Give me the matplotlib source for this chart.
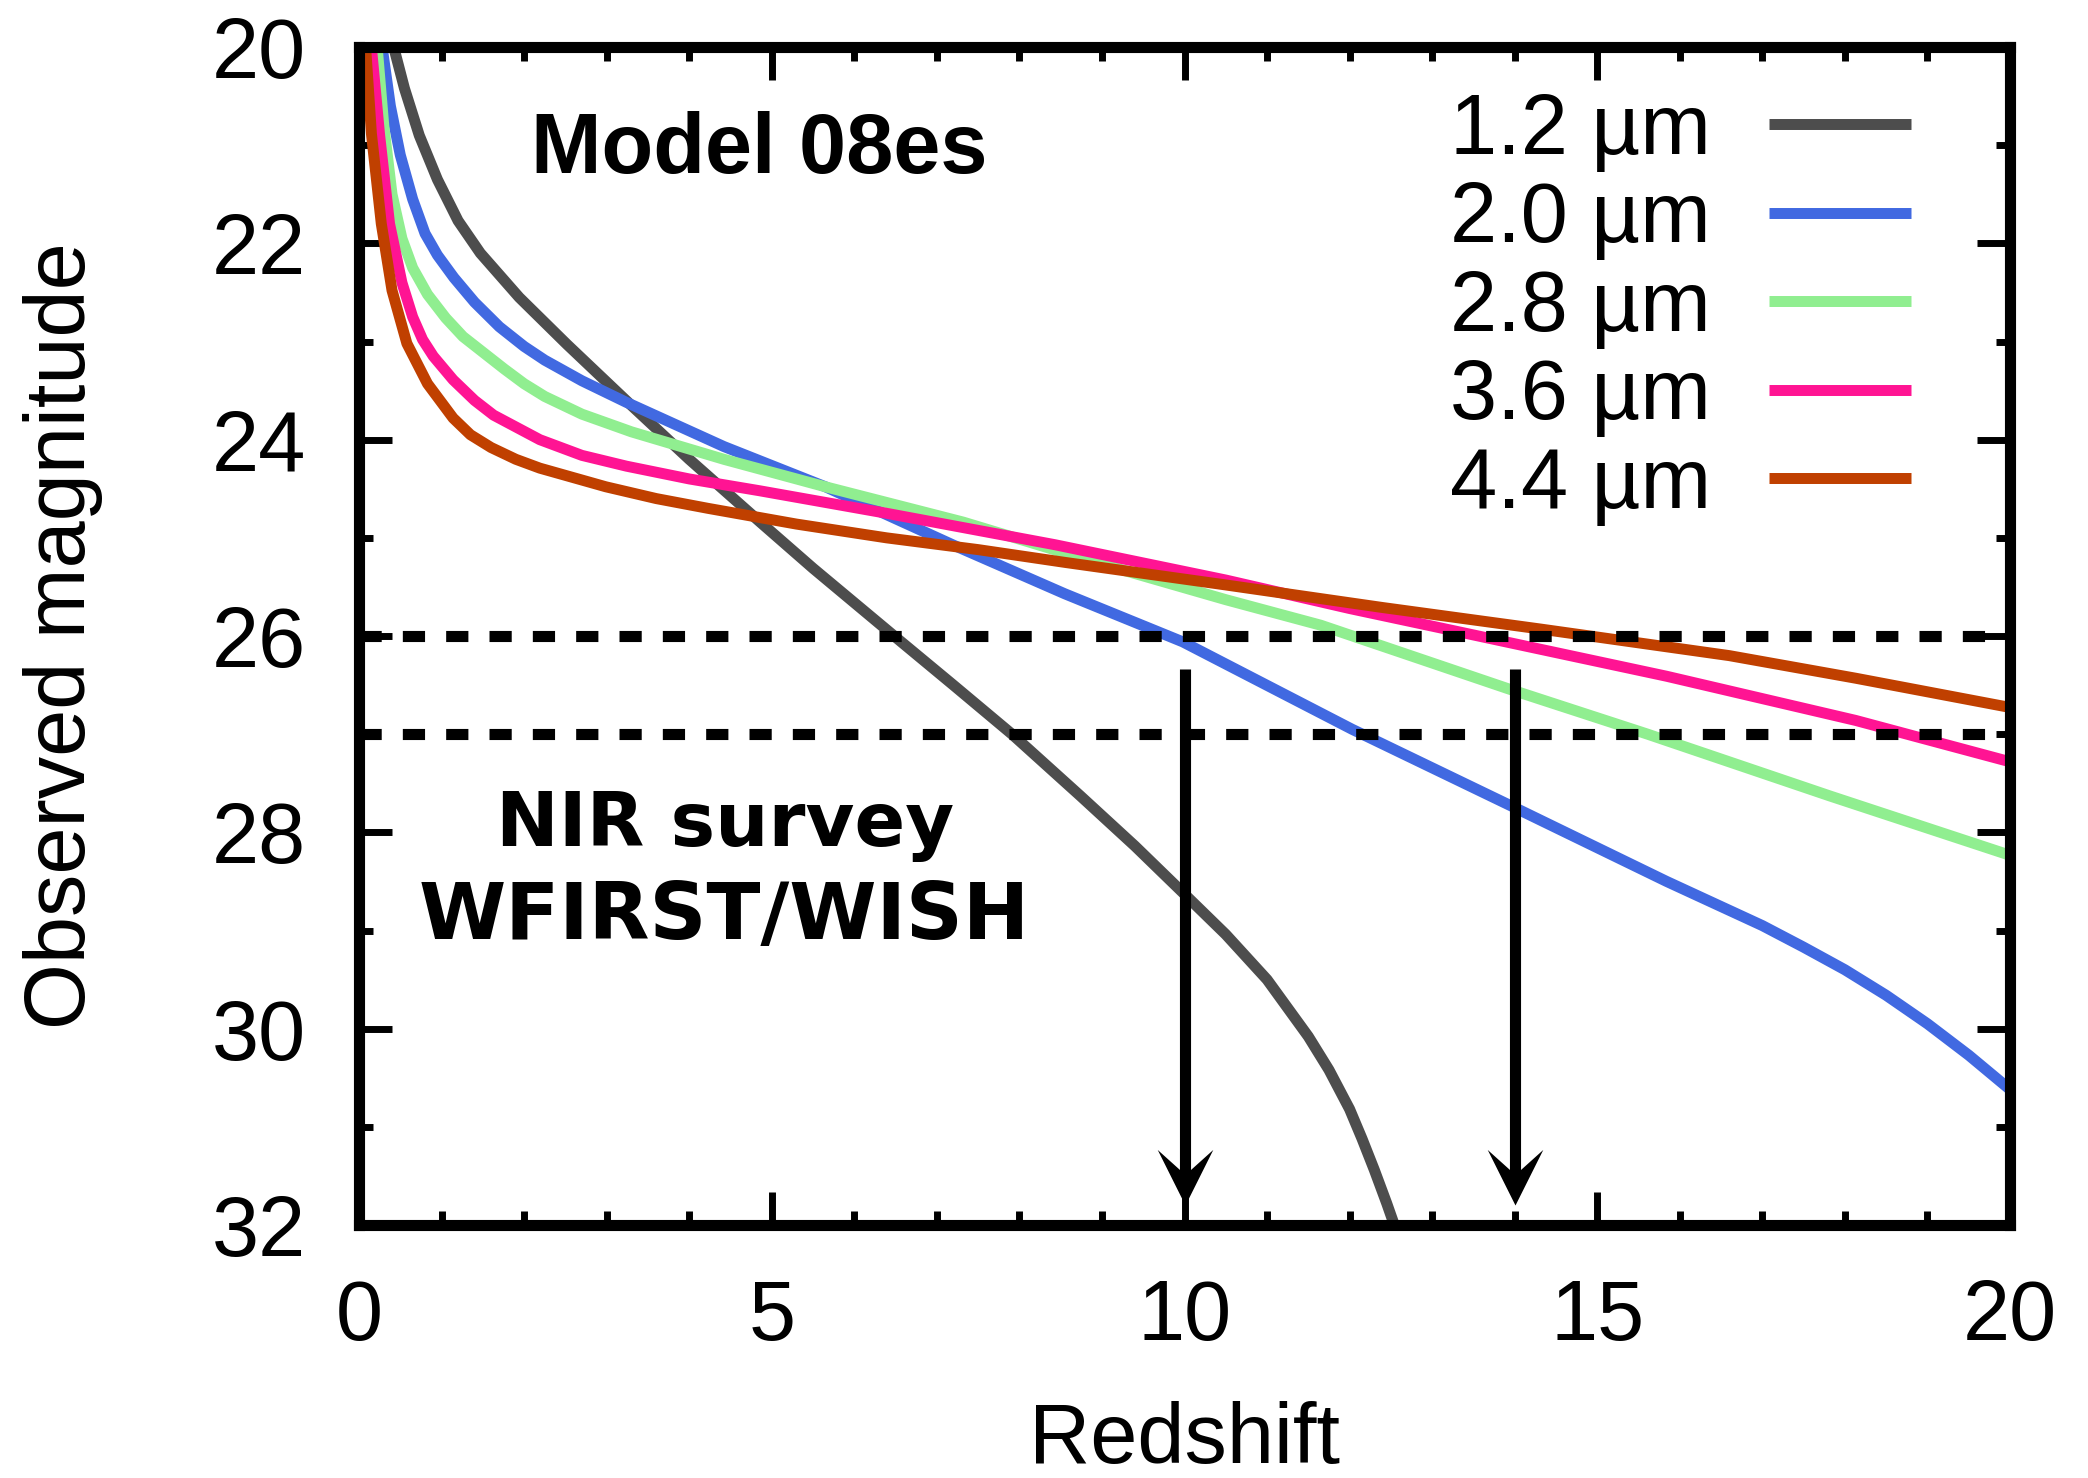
import matplotlib
matplotlib.use("Agg")
import matplotlib.pyplot as plt
from matplotlib.path import Path
from matplotlib.ticker import MultipleLocator

# Observed magnitude vs. redshift for model 08es in five NIR bands
z_12 = [0.35, 0.42, 0.55, 0.73, 0.95, 1.2, 1.47, 1.94, 2.52, 3.26, 4.0, 4.86, 5.5, 6.44,
        7.2, 7.91, 8.74, 9.4, 10.0, 10.5, 11.0, 11.5, 11.75, 12.0, 12.15, 12.3, 12.45, 12.6]
m_12 = [19.7, 20.0, 20.42, 20.9, 21.35, 21.77, 22.1, 22.55, 23.03, 23.62, 24.2, 24.84,
        25.31, 25.97, 26.5, 27.0, 27.63, 28.14, 28.63, 29.04, 29.5, 30.08, 30.42, 30.82,
        31.12, 31.44, 31.78, 32.14]

z_20 = [0.24, 0.28, 0.38, 0.5, 0.65, 0.8, 0.95, 1.15, 1.4, 1.7, 2.0, 2.25, 2.7, 3.24,
        4.42, 5.65, 7.19, 8.55, 9.98, 12.03, 13.93, 15.84, 17.0, 17.5, 18.0, 18.5, 19.0,
        19.5, 20.0]
m_20 = [19.7, 20.0, 20.6, 21.1, 21.55, 21.9, 22.12, 22.35, 22.6, 22.85, 23.05, 23.19,
        23.4, 23.62, 24.07, 24.48, 25.07, 25.57, 26.06, 26.95, 27.72, 28.5, 28.95, 29.17,
        29.4, 29.66, 29.95, 30.27, 30.62]

z_28 = [0.18, 0.22, 0.30, 0.40, 0.52, 0.65, 0.83, 1.05, 1.26, 1.76, 2.0, 2.25, 2.7, 3.30,
        4.42, 5.65, 7.32, 8.93, 10.5, 11.65, 13.93, 15.61, 17.82, 19.95, 20.0]
m_28 = [19.7, 20.0, 20.8, 21.5, 21.95, 22.25, 22.52, 22.76, 22.95, 23.28, 23.43, 23.56,
        23.74, 23.92, 24.20, 24.48, 24.84, 25.25, 25.63, 25.89, 26.54, 27.0, 27.63, 28.22,
        28.24]

z_36 = [0.11, 0.15, 0.25, 0.37, 0.52, 0.65, 0.77, 0.9, 1.14, 1.4, 1.63, 2.19, 2.7, 3.24,
        4.0, 4.85, 6.39, 8.43, 10.5, 12.0, 13.56, 15.84, 18.13, 19.95, 20.0]
m_36 = [19.7, 20.0, 20.9, 21.80, 22.4, 22.75, 22.98, 23.15, 23.39, 23.6, 23.75, 24.0,
        24.16, 24.27, 24.4, 24.52, 24.75, 25.07, 25.43, 25.72, 26.0, 26.41, 26.86, 27.27,
        27.28]

z_44 = [0.04, 0.08, 0.15, 0.27, 0.40, 0.58, 0.83, 1.14, 1.35, 1.6, 1.9, 2.19, 2.99, 3.6,
        4.23, 5.3, 6.39, 7.5, 8.55, 10.5, 12.4, 14.32, 16.6, 18.13, 19.95, 20.0]
m_44 = [19.7, 20.0, 20.88, 21.80, 22.48, 23.02, 23.43, 23.78, 23.95, 24.08, 24.2, 24.29,
        24.48, 24.6, 24.7, 24.86, 25.0, 25.12, 25.25, 25.48, 25.71, 25.93, 26.2, 26.43,
        26.72, 26.73]

bands = ["1.2 \u00b5m", "2.0 \u00b5m", "2.8 \u00b5m", "3.6 \u00b5m", "4.4 \u00b5m"]
colors = ["#4d4d4d", "#4169e1", "#90ee90", "#ff1493", "#c04000"]

# survey depth limits and the redshift reach marked by arrows
depth_limits = [26, 27]
arrow_z = [10, 14]
arrow_top = 26.34
arrow_tip = 31.8

x_ticks = [0, 5, 10, 15, 20]
y_ticks = [20, 22, 24, 26, 28, 30, 32]

plt.rcParams["font.family"] = ["Liberation Sans", "DejaVu Sans"]

W, H = 2088, 1478
fig = plt.figure(figsize=(W / 100, H / 100), dpi=100)
ax = fig.add_axes([359 / W, 1 - 1225 / H, (2010 - 359) / W, (1225 - 47) / H])

lw = 7.9
for zz, mm, lab, col in zip([z_12, z_20, z_28, z_36, z_44],
                            [m_12, m_20, m_28, m_36, m_44], bands, colors):
    ax.plot(zz, mm, color=col, lw=lw, label=lab, solid_capstyle="butt",
            solid_joinstyle="round", zorder=2)

for d in depth_limits:
    ax.axhline(d, color="black", lw=8, dashes=(2.0, 1.9), dash_capstyle="butt", zorder=3)

# notched arrow head, tip at the origin, pointing down
head = Path([(0, 0), (-0.5, 1.0), (0, 0.55), (0.5, 1.0), (0, 0)],
            [Path.MOVETO, Path.LINETO, Path.LINETO, Path.LINETO, Path.CLOSEPOLY])
for za in arrow_z:
    ax.plot([za, za], [arrow_top, arrow_tip - 0.3], color="black", lw=8,
            solid_capstyle="butt", zorder=4)
    ax.plot([za], [arrow_tip], marker=head, markersize=80, color="black",
            markeredgewidth=0, zorder=4, clip_on=False)

ax.set_xlim(0, 20)
ax.set_ylim(32, 20)
ax.set_xticks(x_ticks)
ax.set_yticks(y_ticks)
ax.xaxis.set_minor_locator(MultipleLocator(1))
ax.yaxis.set_minor_locator(MultipleLocator(1))
ax.tick_params(which="both", direction="in", top=True, right=True, width=5,
               color="black")
ax.tick_params(which="major", length=24, labelsize=61, pad=38)
ax.tick_params(which="minor", length=10)
for s in ax.spines.values():
    s.set_linewidth(8)
    s.set_zorder(5)

ax.set_xlabel("Redshift", fontsize=61)
ax.set_ylabel("Observed magnitude", fontsize=61)
ax.xaxis.set_label_coords(0.5, -0.149)
ax.yaxis.set_label_coords(-0.155, 0.5)

ax.text(4.85, 21.28, "Model 08es", fontsize=61, fontweight="bold",
        ha="center", va="baseline")
ax.text(4.43, 28.14, "NIR survey", fontsize=54, fontweight="bold",
        family="DejaVu Sans", ha="center", va="baseline")
ax.text(4.43, 29.09, "WFIRST/WISH", fontsize=57, fontweight="bold",
        family="DejaVu Sans", ha="center", va="baseline")

leg = ax.legend(loc="upper right", bbox_to_anchor=(0.940, 0.962), frameon=False,
                markerfirst=False, fontsize=61, handlelength=1.68, handletextpad=0.68,
                labelspacing=0.1, borderpad=0, borderaxespad=0)
for h in leg.get_lines():
    h.set_linewidth(lw)
    h.set_solid_capstyle("butt")

fig.savefig("out.png", dpi=100)
